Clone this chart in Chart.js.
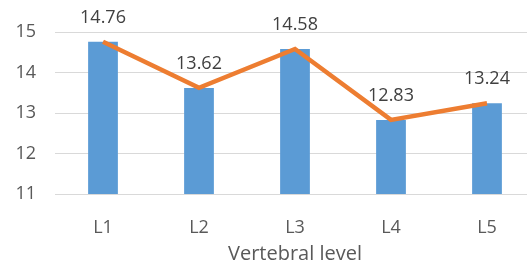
<!DOCTYPE html>
<html>
<head>
<meta charset="utf-8">
<script src="https://cdn.jsdelivr.net/npm/chart.js@4"></script>
<style>
  html, body { margin: 0; padding: 0; overflow: hidden; background: #fff; }
  #wrap { width: 540px; height: 262px; }
</style>
</head>
<body>
<div id="wrap"><canvas id="level-chart"></canvas></div>
<script>
const levels = ['L1', 'L2', 'L3', 'L4', 'L5'];
const barValues = [14.76, 13.62, 14.58, 12.83, 13.24];
const lineValues = [14.76, 13.62, 14.58, 12.83, 13.24];
const yTicks = [11, 12, 13, 14, 15];

const fontFamily = "'Open Sans', 'Noto Sans', sans-serif";

// draws the value above each point of the line
const valueLabels = {
    id: 'valueLabels',
    afterDatasetsDraw: (chart) => {
        const ctx = chart.ctx;
        const meta = chart.getDatasetMeta(1);
        ctx.save();
        ctx.font = '18px ' + fontFamily;
        ctx.fillStyle = '#404040';
        ctx.textAlign = 'center';
        ctx.textBaseline = 'middle';
        meta.data.forEach((pt, i) => {
            ctx.fillText(lineValues[i].toFixed(2), pt.x, pt.y - 24);
        });
        ctx.restore();
    }
};

const renderChart = () => {
    const ctx = document.getElementById('level-chart');
    new Chart(ctx, {
        type: 'bar',
        data: {
            labels: levels,
            datasets: [{
                type: 'bar',
                data: barValues,
                backgroundColor: '#5B9BD5',
                categoryPercentage: 1,
                barPercentage: 0.31,
                order: 2
            },
            {
                type: 'line',
                data: lineValues,
                borderColor: '#ED7D31',
                borderWidth: 4.5,
                pointRadius: 0,
                tension: 0,
                order: 1
            }]
        },
        options: {
            responsive: true,
            maintainAspectRatio: false,
            animation: false,
            layout: { padding: { top: 32, right: 5, left: 0, bottom: 0 } },
            plugins: {
                legend: { display: false },
                tooltip: { enabled: false }
            },
            scales: {
                x: {
                    grid: { display: false },
                    border: { color: '#d9d9d9', width: 1 },
                    ticks: {
                        color: '#595959',
                        font: { family: fontFamily, size: 18 },
                        padding: 15
                    },
                    title: {
                        display: true,
                        text: 'Vertebral level',
                        color: '#595959',
                        font: { family: fontFamily, size: 20 },
                        padding: { top: 0, bottom: -4 }
                    },
                    afterFit: (scale) => { scale.height = 68; }
                },
                y: {
                    min: 11,
                    max: 15,
                    afterBuildTicks: (scale) => {
                        scale.ticks = yTicks.map(v => ({ value: v }));
                    },
                    grid: { color: '#d9d9d9', lineWidth: 1, drawTicks: false },
                    border: { display: false },
                    ticks: {
                        color: '#595959',
                        font: { family: fontFamily, size: 18 },
                        padding: 19
                    },
                    afterFit: (scale) => { scale.width = 55; }
                }
            }
        },
        plugins: [valueLabels]
    });
}

renderChart();
</script>
</body>
</html>
